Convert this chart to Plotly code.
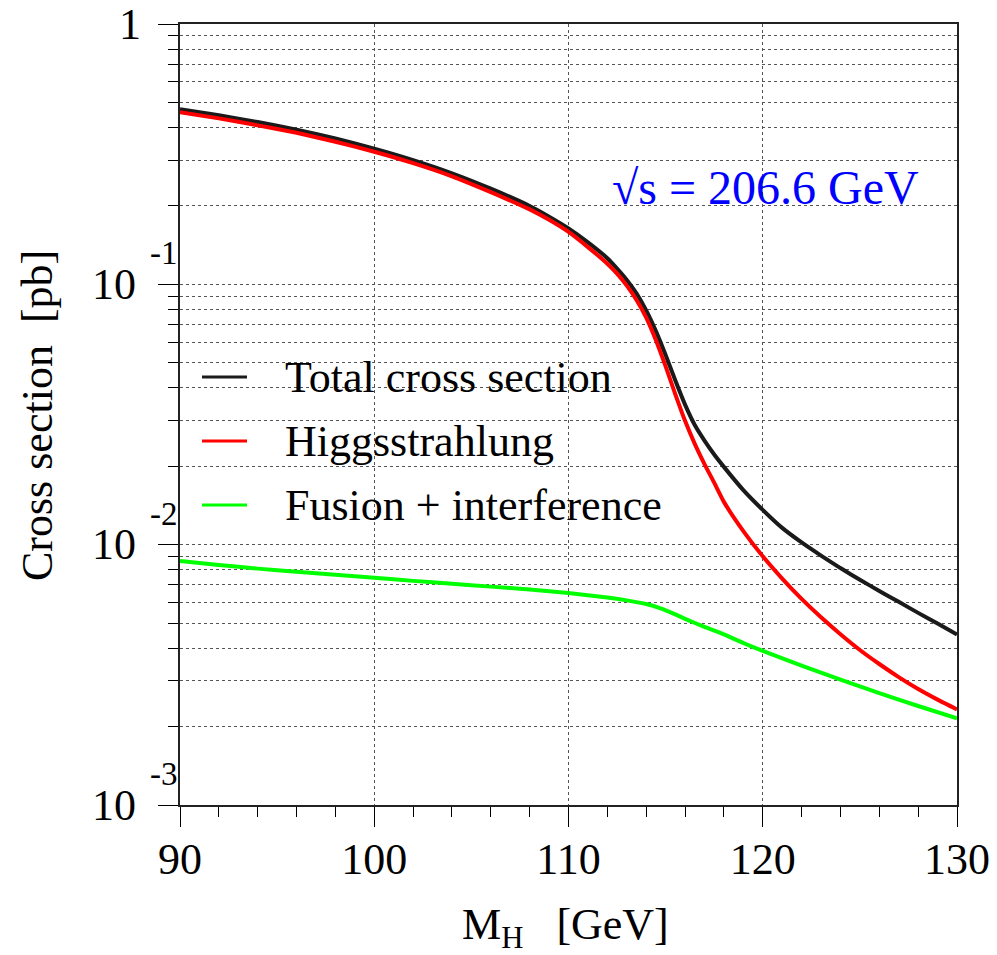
import math
import plotly.graph_objects as go

# ---- Data (M_H in GeV, cross sections in pb) ----
mh_total = [90, 92, 94, 96, 98, 100, 102, 104, 106, 108, 109, 110, 111, 112, 112.5, 113, 113.5, 114,
            114.5, 115, 115.5, 116, 116.5, 117, 117.5, 118, 119, 120, 121, 122, 123, 124, 125, 126,
            127, 128, 129, 130]
sig_total = [0.471, 0.446, 0.420, 0.393, 0.363, 0.332, 0.300, 0.267, 0.233, 0.200, 0.182, 0.164, 0.145,
             0.126, 0.115, 0.104, 0.0923, 0.0794, 0.0661, 0.0535, 0.0427, 0.0345, 0.0288, 0.0251,
             0.0222, 0.0199, 0.0162, 0.0136, 0.0116, 0.0102, 0.00908, 0.00813, 0.00733, 0.00664,
             0.00603, 0.00547, 0.00498, 0.00452]

mh_hz = [90, 92, 94, 96, 98, 100, 102, 104, 106, 108, 109, 110, 111, 112, 112.5, 113, 113.5, 114,
         114.5, 115, 115.5, 116, 116.5, 117, 117.5, 118, 119, 120, 121, 122, 123, 124, 125, 126, 127,
         128, 129, 130]
sig_hz = [0.458, 0.434, 0.408, 0.382, 0.353, 0.323, 0.292, 0.260, 0.226, 0.194, 0.177, 0.159, 0.139,
          0.120, 0.110, 0.0989, 0.0871, 0.0745, 0.0610, 0.0484, 0.0378, 0.0299, 0.0244, 0.0204,
          0.0173, 0.0146, 0.01127, 0.00902, 0.00741, 0.00619, 0.00526, 0.00453, 0.00394, 0.00348,
          0.00310, 0.00279, 0.00254, 0.00233]

mh_fus = [90, 92, 94, 96, 98, 100, 102, 104, 106, 108, 110, 112, 113, 114, 114.7, 115.5, 116, 117,
          118, 119, 120, 122, 124, 126, 128, 130]
sig_fus = [0.00865, 0.00836, 0.00809, 0.00787, 0.00766, 0.00746, 0.00726, 0.00708, 0.00690, 0.00673,
           0.00652, 0.00627, 0.00611, 0.00592, 0.00571, 0.00540, 0.00519, 0.00483, 0.00452, 0.00419,
           0.00391, 0.00343, 0.00303, 0.00269, 0.00240, 0.00215]

names = ["Total cross section", "Higgsstrahlung", "Fusion + interference"]
colors = ["#1a1a1a", "#ff0000", "#00ff00"]

y_major = [0.001, 0.01, 0.1, 1]
y_major_base = ["10", "10", "10", "1"]
y_major_exp = ["-3", "-2", "-1", ""]
y_minor = [m * d for d in [0.001, 0.01, 0.1] for m in range(2, 10)]
x_major = [90, 100, 110, 120, 130]

FONT = "Liberation Serif"
FS = 44

# plot-area geometry (pixels) used only for layout placement
L, R, T, B = 180, 957, 24, 805
PW, PH = R - L, B - T


def px_x(px):
    return (px - L) / PW


def px_y(py):
    return 1 - (py - T) / PH


fig = go.Figure()
series = [(mh_total, sig_total), (mh_hz, sig_hz), (mh_fus, sig_fus)]
for (xs, ys), nm, col in zip(series, names, colors):
    fig.add_trace(go.Scatter(x=xs, y=ys, mode="lines", name=nm,
                             line=dict(color=col, width=4, shape="spline", smoothing=0.5),
                             showlegend=False))

fig.update_layout(
    width=997, height=955,
    margin=dict(l=L, r=997 - R, t=T, b=955 - B, autoexpand=False),
    paper_bgcolor="white", plot_bgcolor="white",
    font=dict(family=FONT, size=FS, color="black"),
    xaxis=dict(range=[90, 130], tickvals=x_major, ticks="outside", ticklen=20, tickwidth=1,
               tickcolor="black", showline=True, linecolor="#222", linewidth=2, mirror=True,
               showgrid=True, gridcolor="#555", griddash="dot", gridwidth=1, automargin=False,
               zeroline=False, tickfont=dict(size=FS, family=FONT), ticklabeloverflow="allow",
               ticklabelstandoff=-6,
               minor=dict(dtick=2, ticks="outside", ticklen=10, tickcolor="black", showgrid=False)),
    yaxis=dict(type="log", range=[-3, 0], tickvals=y_major, showticklabels=False,
               ticks="outside", ticklen=20, tickwidth=1, tickcolor="black", automargin=False,
               showline=True, linecolor="#222", linewidth=2, mirror=True,
               showgrid=True, gridcolor="#555", griddash="dot", gridwidth=1,
               zeroline=False,
               minor=dict(tickvals=y_minor, ticks="outside", ticklen=10, tickcolor="black",
                          showgrid=True, gridcolor="#555", griddash="dot", gridwidth=1)),
)

# y tick labels in the reference style: "10" with a raised exponent next to the axis
for val, base, ex in zip(y_major, y_major_base, y_major_exp):
    ylog = math.log10(val)
    if ex:
        fig.add_annotation(text=base, xref="paper", yref="y", x=px_x(138), y=ylog,
                           xanchor="right", yanchor="middle", showarrow=False,
                           font=dict(size=FS, family=FONT))
        fig.add_annotation(text=ex, xref="paper", yref="y", x=px_x(148), y=ylog, yshift=31,
                           xanchor="left", yanchor="middle", showarrow=False,
                           font=dict(size=33, family=FONT))
    else:
        fig.add_annotation(text=base, xref="paper", yref="y", x=px_x(143), y=ylog,
                           xanchor="right", yanchor="middle", showarrow=False,
                           font=dict(size=FS, family=FONT))

# legend: line samples + labels
leg_y = [377, 441, 505]
for nm, col, yy in zip(names, colors, leg_y):
    fig.add_shape(type="line", xref="paper", yref="paper", x0=px_x(202), x1=px_x(247),
                  y0=px_y(yy), y1=px_y(yy), line=dict(color=col, width=3))
    fig.add_annotation(text=nm, xref="paper", yref="paper", x=px_x(283), y=px_y(yy),
                       xanchor="left", yanchor="middle", showarrow=False,
                       font=dict(size=FS, family=FONT))

fig.add_annotation(text="√s = 206.6 GeV", xref="paper", yref="paper", x=px_x(610), y=px_y(187),
                   xanchor="left", yanchor="middle", showarrow=False,
                   font=dict(size=48, color="#0000ff", family=FONT))
fig.add_annotation(text="Cross section\u00a0\u00a0[pb]", xref="paper", yref="paper", x=px_x(37), y=px_y(416),
                   xanchor="center", yanchor="middle", textangle=-90, showarrow=False,
                   font=dict(size=FS, family=FONT))
fig.add_annotation(text="M<sub>H</sub>\u00a0\u00a0\u00a0[GeV]", xref="paper", yref="paper", x=px_x(565),
                   y=px_y(927), xanchor="center", yanchor="middle", showarrow=False,
                   font=dict(size=FS, family=FONT))

fig.write_html("out.html")
